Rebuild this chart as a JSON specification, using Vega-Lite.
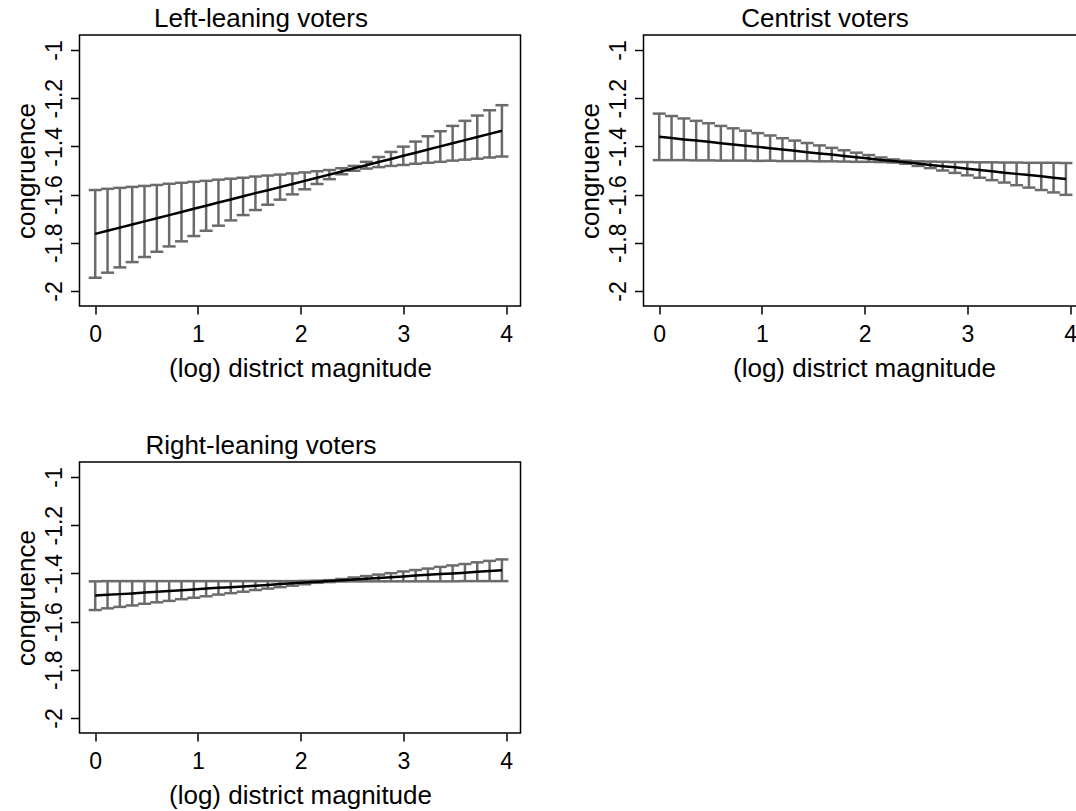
{
  "$schema": "https://vega.github.io/schema/vega-lite/v6.json",
  "background": "white",
  "padding": {"left": 12.5, "top": 5, "right": 0, "bottom": 0},
  "bounds": "flush",
  "columns": 2,
  "spacing": {"column": 123, "row": 156},
  "data": {"values": [
    {"g":"L","x":0.00,"c":-1.763,"lo":-1.945,"hi":-1.581},
    {"g":"L","x":0.12,"c":-1.750,"lo":-1.924,"hi":-1.576},
    {"g":"L","x":0.24,"c":-1.737,"lo":-1.902,"hi":-1.572},
    {"g":"L","x":0.36,"c":-1.724,"lo":-1.880,"hi":-1.568},
    {"g":"L","x":0.48,"c":-1.711,"lo":-1.859,"hi":-1.564},
    {"g":"L","x":0.60,"c":-1.698,"lo":-1.837,"hi":-1.560},
    {"g":"L","x":0.72,"c":-1.685,"lo":-1.815,"hi":-1.555},
    {"g":"L","x":0.84,"c":-1.672,"lo":-1.794,"hi":-1.551},
    {"g":"L","x":0.96,"c":-1.659,"lo":-1.772,"hi":-1.547},
    {"g":"L","x":1.08,"c":-1.646,"lo":-1.750,"hi":-1.543},
    {"g":"L","x":1.20,"c":-1.633,"lo":-1.729,"hi":-1.538},
    {"g":"L","x":1.32,"c":-1.620,"lo":-1.707,"hi":-1.534},
    {"g":"L","x":1.44,"c":-1.607,"lo":-1.685,"hi":-1.530},
    {"g":"L","x":1.56,"c":-1.594,"lo":-1.664,"hi":-1.525},
    {"g":"L","x":1.68,"c":-1.582,"lo":-1.642,"hi":-1.521},
    {"g":"L","x":1.80,"c":-1.569,"lo":-1.621,"hi":-1.517},
    {"g":"L","x":1.92,"c":-1.556,"lo":-1.599,"hi":-1.512},
    {"g":"L","x":2.04,"c":-1.543,"lo":-1.578,"hi":-1.508},
    {"g":"L","x":2.16,"c":-1.530,"lo":-1.556,"hi":-1.503},
    {"g":"L","x":2.28,"c":-1.517,"lo":-1.536,"hi":-1.498},
    {"g":"L","x":2.40,"c":-1.504,"lo":-1.516,"hi":-1.491},
    {"g":"L","x":2.52,"c":-1.491,"lo":-1.501,"hi":-1.481},
    {"g":"L","x":2.64,"c":-1.478,"lo":-1.492,"hi":-1.464},
    {"g":"L","x":2.76,"c":-1.465,"lo":-1.486,"hi":-1.444},
    {"g":"L","x":2.88,"c":-1.452,"lo":-1.481,"hi":-1.423},
    {"g":"L","x":3.00,"c":-1.439,"lo":-1.477,"hi":-1.401},
    {"g":"L","x":3.12,"c":-1.426,"lo":-1.472,"hi":-1.380},
    {"g":"L","x":3.24,"c":-1.413,"lo":-1.468,"hi":-1.358},
    {"g":"L","x":3.36,"c":-1.400,"lo":-1.464,"hi":-1.337},
    {"g":"L","x":3.48,"c":-1.387,"lo":-1.459,"hi":-1.315},
    {"g":"L","x":3.60,"c":-1.374,"lo":-1.455,"hi":-1.294},
    {"g":"L","x":3.72,"c":-1.361,"lo":-1.451,"hi":-1.272},
    {"g":"L","x":3.84,"c":-1.348,"lo":-1.446,"hi":-1.250},
    {"g":"L","x":3.96,"c":-1.335,"lo":-1.442,"hi":-1.229},
    {"g":"C","x":0.00,"c":-1.360,"lo":-1.457,"hi":-1.264},
    {"g":"C","x":0.12,"c":-1.365,"lo":-1.457,"hi":-1.274},
    {"g":"C","x":0.24,"c":-1.371,"lo":-1.457,"hi":-1.284},
    {"g":"C","x":0.36,"c":-1.376,"lo":-1.458,"hi":-1.294},
    {"g":"C","x":0.48,"c":-1.381,"lo":-1.458,"hi":-1.304},
    {"g":"C","x":0.60,"c":-1.387,"lo":-1.459,"hi":-1.315},
    {"g":"C","x":0.72,"c":-1.392,"lo":-1.459,"hi":-1.325},
    {"g":"C","x":0.84,"c":-1.397,"lo":-1.459,"hi":-1.335},
    {"g":"C","x":0.96,"c":-1.402,"lo":-1.460,"hi":-1.345},
    {"g":"C","x":1.08,"c":-1.408,"lo":-1.460,"hi":-1.355},
    {"g":"C","x":1.20,"c":-1.413,"lo":-1.461,"hi":-1.366},
    {"g":"C","x":1.32,"c":-1.418,"lo":-1.461,"hi":-1.376},
    {"g":"C","x":1.44,"c":-1.424,"lo":-1.461,"hi":-1.386},
    {"g":"C","x":1.56,"c":-1.429,"lo":-1.462,"hi":-1.396},
    {"g":"C","x":1.68,"c":-1.434,"lo":-1.462,"hi":-1.406},
    {"g":"C","x":1.80,"c":-1.440,"lo":-1.463,"hi":-1.416},
    {"g":"C","x":1.92,"c":-1.445,"lo":-1.464,"hi":-1.426},
    {"g":"C","x":2.04,"c":-1.450,"lo":-1.464,"hi":-1.436},
    {"g":"C","x":2.16,"c":-1.456,"lo":-1.465,"hi":-1.446},
    {"g":"C","x":2.28,"c":-1.461,"lo":-1.467,"hi":-1.454},
    {"g":"C","x":2.40,"c":-1.466,"lo":-1.472,"hi":-1.460},
    {"g":"C","x":2.52,"c":-1.471,"lo":-1.481,"hi":-1.462},
    {"g":"C","x":2.64,"c":-1.477,"lo":-1.490,"hi":-1.463},
    {"g":"C","x":2.76,"c":-1.482,"lo":-1.500,"hi":-1.464},
    {"g":"C","x":2.88,"c":-1.487,"lo":-1.510,"hi":-1.465},
    {"g":"C","x":3.00,"c":-1.493,"lo":-1.520,"hi":-1.465},
    {"g":"C","x":3.12,"c":-1.498,"lo":-1.530,"hi":-1.466},
    {"g":"C","x":3.24,"c":-1.503,"lo":-1.540,"hi":-1.466},
    {"g":"C","x":3.36,"c":-1.509,"lo":-1.550,"hi":-1.467},
    {"g":"C","x":3.48,"c":-1.514,"lo":-1.561,"hi":-1.467},
    {"g":"C","x":3.60,"c":-1.519,"lo":-1.571,"hi":-1.468},
    {"g":"C","x":3.72,"c":-1.524,"lo":-1.581,"hi":-1.468},
    {"g":"C","x":3.84,"c":-1.530,"lo":-1.591,"hi":-1.468},
    {"g":"C","x":3.96,"c":-1.535,"lo":-1.601,"hi":-1.469},
    {"g":"R","x":0.00,"c":-1.492,"lo":-1.552,"hi":-1.433},
    {"g":"R","x":0.12,"c":-1.489,"lo":-1.545,"hi":-1.432},
    {"g":"R","x":0.24,"c":-1.486,"lo":-1.539,"hi":-1.432},
    {"g":"R","x":0.36,"c":-1.483,"lo":-1.533,"hi":-1.432},
    {"g":"R","x":0.48,"c":-1.479,"lo":-1.526,"hi":-1.432},
    {"g":"R","x":0.60,"c":-1.476,"lo":-1.520,"hi":-1.432},
    {"g":"R","x":0.72,"c":-1.473,"lo":-1.514,"hi":-1.432},
    {"g":"R","x":0.84,"c":-1.470,"lo":-1.507,"hi":-1.432},
    {"g":"R","x":0.96,"c":-1.467,"lo":-1.501,"hi":-1.432},
    {"g":"R","x":1.08,"c":-1.463,"lo":-1.495,"hi":-1.432},
    {"g":"R","x":1.20,"c":-1.460,"lo":-1.488,"hi":-1.432},
    {"g":"R","x":1.32,"c":-1.457,"lo":-1.482,"hi":-1.432},
    {"g":"R","x":1.44,"c":-1.454,"lo":-1.476,"hi":-1.432},
    {"g":"R","x":1.56,"c":-1.451,"lo":-1.469,"hi":-1.432},
    {"g":"R","x":1.68,"c":-1.448,"lo":-1.463,"hi":-1.432},
    {"g":"R","x":1.80,"c":-1.444,"lo":-1.457,"hi":-1.432},
    {"g":"R","x":1.92,"c":-1.441,"lo":-1.451,"hi":-1.432},
    {"g":"R","x":2.04,"c":-1.438,"lo":-1.445,"hi":-1.431},
    {"g":"R","x":2.16,"c":-1.435,"lo":-1.439,"hi":-1.430},
    {"g":"R","x":2.28,"c":-1.432,"lo":-1.436,"hi":-1.428},
    {"g":"R","x":2.40,"c":-1.428,"lo":-1.434,"hi":-1.423},
    {"g":"R","x":2.52,"c":-1.425,"lo":-1.433,"hi":-1.417},
    {"g":"R","x":2.64,"c":-1.422,"lo":-1.433,"hi":-1.411},
    {"g":"R","x":2.76,"c":-1.419,"lo":-1.433,"hi":-1.405},
    {"g":"R","x":2.88,"c":-1.416,"lo":-1.433,"hi":-1.399},
    {"g":"R","x":3.00,"c":-1.413,"lo":-1.433,"hi":-1.392},
    {"g":"R","x":3.12,"c":-1.409,"lo":-1.433,"hi":-1.386},
    {"g":"R","x":3.24,"c":-1.406,"lo":-1.433,"hi":-1.380},
    {"g":"R","x":3.36,"c":-1.403,"lo":-1.433,"hi":-1.373},
    {"g":"R","x":3.48,"c":-1.400,"lo":-1.433,"hi":-1.367},
    {"g":"R","x":3.60,"c":-1.397,"lo":-1.432,"hi":-1.361},
    {"g":"R","x":3.72,"c":-1.393,"lo":-1.432,"hi":-1.354},
    {"g":"R","x":3.84,"c":-1.390,"lo":-1.432,"hi":-1.348},
    {"g":"R","x":3.96,"c":-1.387,"lo":-1.432,"hi":-1.342}
  ]},
  "concat": [
    {
      "width": 441, "height": 271,
      "title": {"text": "Left-leaning voters"},
      "transform": [{"filter": "datum.g == 'L'"}],
      "encoding": {"x": {"field": "x", "type": "quantitative", "scale": {"domain": [-0.153, 4.141], "nice": false, "zero": false}, "axis": {"title": "(log) district magnitude", "values": [0, 1, 2, 3, 4]}}},
      "layer": [
        {"mark": {"type": "rule", "color": "#6b6b6b", "strokeWidth": 2.5}, "encoding": {"y": {"field": "lo", "type": "quantitative", "scale": {"domain": [-2.0622, -0.9378], "nice": false, "zero": false}, "axis": {"title": "congruence", "values": [-2, -1.8, -1.6, -1.4, -1.2, -1], "format": "~g"}}, "y2": {"field": "hi"}}},
        {"mark": {"type": "tick", "orient": "horizontal", "color": "#6b6b6b", "opacity": 1, "thickness": 2.5, "size": 13}, "encoding": {"y": {"field": "lo", "type": "quantitative", "title": "congruence"}}},
        {"mark": {"type": "tick", "orient": "horizontal", "color": "#6b6b6b", "opacity": 1, "thickness": 2.5, "size": 13}, "encoding": {"y": {"field": "hi", "type": "quantitative", "title": "congruence"}}},
        {"mark": {"type": "line", "color": "black", "strokeWidth": 2.5}, "encoding": {"y": {"field": "c", "type": "quantitative", "title": "congruence"}}}
      ]
    },
    {
      "width": 441, "height": 271,
      "title": {"text": "Centrist voters"},
      "transform": [{"filter": "datum.g == 'C'"}],
      "encoding": {"x": {"field": "x", "type": "quantitative", "scale": {"domain": [-0.153, 4.141], "nice": false, "zero": false}, "axis": {"title": "(log) district magnitude", "values": [0, 1, 2, 3, 4]}}},
      "layer": [
        {"mark": {"type": "rule", "color": "#6b6b6b", "strokeWidth": 2.5}, "encoding": {"y": {"field": "lo", "type": "quantitative", "scale": {"domain": [-2.0622, -0.9378], "nice": false, "zero": false}, "axis": {"title": "congruence", "values": [-2, -1.8, -1.6, -1.4, -1.2, -1], "format": "~g"}}, "y2": {"field": "hi"}}},
        {"mark": {"type": "tick", "orient": "horizontal", "color": "#6b6b6b", "opacity": 1, "thickness": 2.5, "size": 13}, "encoding": {"y": {"field": "lo", "type": "quantitative", "title": "congruence"}}},
        {"mark": {"type": "tick", "orient": "horizontal", "color": "#6b6b6b", "opacity": 1, "thickness": 2.5, "size": 13}, "encoding": {"y": {"field": "hi", "type": "quantitative", "title": "congruence"}}},
        {"mark": {"type": "line", "color": "black", "strokeWidth": 2.5}, "encoding": {"y": {"field": "c", "type": "quantitative", "title": "congruence"}}}
      ]
    },
    {
      "width": 441, "height": 271,
      "title": {"text": "Right-leaning voters"},
      "transform": [{"filter": "datum.g == 'R'"}],
      "encoding": {"x": {"field": "x", "type": "quantitative", "scale": {"domain": [-0.153, 4.141], "nice": false, "zero": false}, "axis": {"title": "(log) district magnitude", "values": [0, 1, 2, 3, 4]}}},
      "layer": [
        {"mark": {"type": "rule", "color": "#6b6b6b", "strokeWidth": 2.5}, "encoding": {"y": {"field": "lo", "type": "quantitative", "scale": {"domain": [-2.0622, -0.9378], "nice": false, "zero": false}, "axis": {"title": "congruence", "values": [-2, -1.8, -1.6, -1.4, -1.2, -1], "format": "~g"}}, "y2": {"field": "hi"}}},
        {"mark": {"type": "tick", "orient": "horizontal", "color": "#6b6b6b", "opacity": 1, "thickness": 2.5, "size": 13}, "encoding": {"y": {"field": "lo", "type": "quantitative", "title": "congruence"}}},
        {"mark": {"type": "tick", "orient": "horizontal", "color": "#6b6b6b", "opacity": 1, "thickness": 2.5, "size": 13}, "encoding": {"y": {"field": "hi", "type": "quantitative", "title": "congruence"}}},
        {"mark": {"type": "line", "color": "black", "strokeWidth": 2.5}, "encoding": {"y": {"field": "c", "type": "quantitative", "title": "congruence"}}}
      ]
    }
  ],
  "config": {
    "font": "Liberation Sans",
    "view": {"stroke": "black", "strokeWidth": 1.5},
    "axis": {"domain": false, "grid": false, "ticks": true, "tickColor": "black", "tickWidth": 1.5, "labelColor": "black", "titleColor": "black", "labelFont": "Liberation Sans", "titleFont": "Liberation Sans", "labelFontSize": 23, "titleFontSize": 26, "titleFontWeight": "normal", "labelOverlap": false, "labelExpr": "replace(datum.label, '\u2212', '-')"},
    "axisX": {"tickSize": 8, "labelPadding": 9, "titlePadding": 9},
    "axisY": {"tickSize": 9, "labelPadding": 9, "labelAngle": -90, "labelAlign": "center", "labelBaseline": "alphabetic", "titlePadding": 4},
    "title": {"font": "Liberation Sans", "fontSize": 26, "fontWeight": "normal", "color": "black", "offset": 3, "baseline": "alphabetic", "dx": -39}
  }
}
